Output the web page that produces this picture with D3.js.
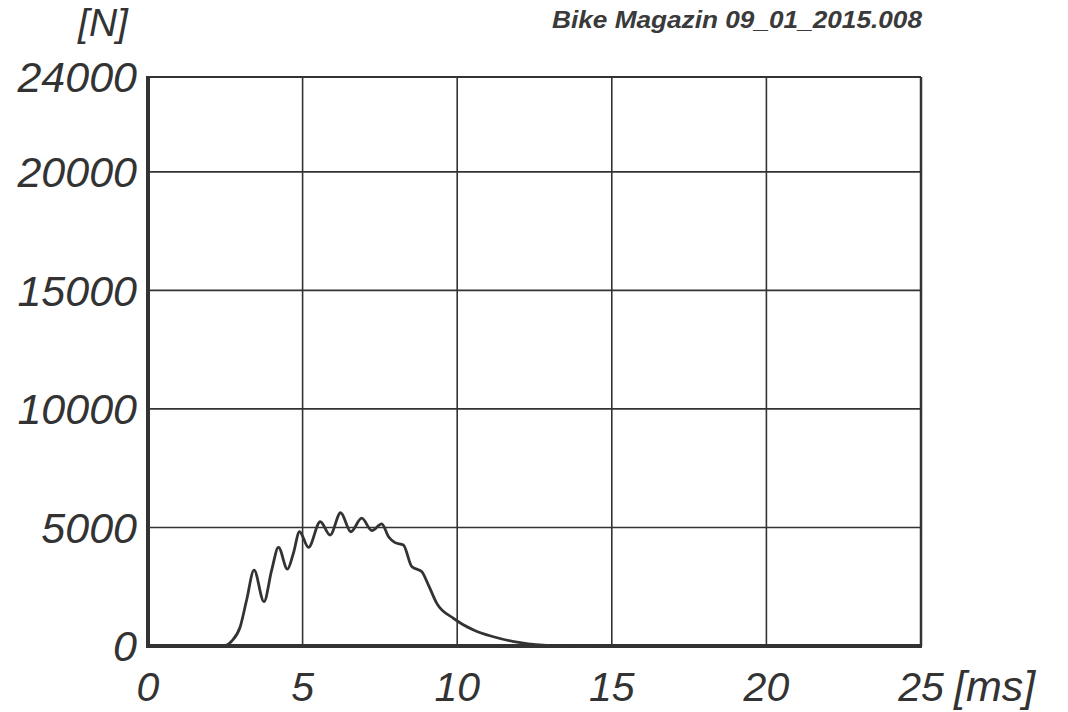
<!DOCTYPE html>
<html><head><meta charset="utf-8">
<script src="https://cdn.jsdelivr.net/npm/d3@7"></script>
<style>body{margin:0;background:#fff}svg{display:block}text{font-family:"Liberation Sans",Arial,sans-serif;font-style:italic;fill:#333}</style>
</head><body>
<script>
const xTicks = [0, 5, 10, 15, 20, 25];
const yTicks = [0, 5000, 10000, 15000, 20000, 24000];
const timeMs = [0, 1, 2, 2.5, 2.7, 2.98, 3.19, 3.43, 3.75, 4.0, 4.22, 4.51, 4.70, 4.90, 5.19, 5.57, 5.89, 6.23, 6.56, 6.91, 7.24, 7.56, 7.78, 7.99, 8.26, 8.53, 8.85, 9.07, 9.34, 9.88, 10.53, 11.17, 12.04, 13.0, 15, 20, 25];
const forceN = [0, 0, 0, 20, 200, 800, 1940, 3200, 1870, 3200, 4160, 3240, 3900, 4820, 4160, 5240, 4680, 5620, 4820, 5390, 4870, 5150, 4610, 4360, 4260, 3350, 3140, 2570, 1800, 1170, 675, 390, 140, 20, 0, 0, 0];
const title = "Bike Magazin 09_01_2015.008";
const yUnit = "[N]";
const xUnit = "[ms]";

const W = 1068, H = 712;
const svg = d3.select("body").append("svg").attr("width", W).attr("height", H);
const x = d3.scaleLinear().domain([0, 25]).range([148, 921]);
const y = d3.scaleLinear().domain([0, 24000]).range([646, 77]);
const ink = "#333";

// grid
svg.append("g").selectAll("line").data(xTicks.filter(d => d > 0)).join("line")
  .attr("x1", d => x(d)).attr("x2", d => x(d)).attr("y1", y(24000)).attr("y2", y(0))
  .attr("stroke", ink).attr("stroke-width", d => d === 25 ? 2.5 : 1.6);
svg.append("g").selectAll("line").data(yTicks.filter(d => d > 0)).join("line")
  .attr("x1", x(0)).attr("x2", x(25)).attr("y1", d => y(d)).attr("y2", d => y(d))
  .attr("stroke", ink).attr("stroke-width", d => d === 24000 ? 2.2 : 1.6);

// axes lines (thick)
svg.append("line").attr("x1", x(0)).attr("x2", x(0)).attr("y1", y(24000) - 1).attr("y2", y(0) + 2)
  .attr("stroke", ink).attr("stroke-width", 4);
svg.append("line").attr("x1", x(0) - 2).attr("x2", x(25) + 1).attr("y1", y(0)).attr("y2", y(0))
  .attr("stroke", ink).attr("stroke-width", 4);

// curve
const pts = timeMs.map((t, i) => [t, forceN[i]]);
svg.append("path").datum(pts)
  .attr("d", d3.line().x(d => x(d[0])).y(d => y(d[1])).curve(d3.curveMonotoneX))
  .attr("fill", "none").attr("stroke", ink).attr("stroke-width", 2.8).attr("stroke-linejoin", "round");

// y tick labels
svg.append("g").selectAll("text").data(yTicks).join("text")
  .attr("x", 137).attr("y", d => y(d)).attr("dy", "0.36em")
  .attr("text-anchor", "end").attr("font-size", 43).text(d => d);

// x tick labels
svg.append("g").selectAll("text").data(xTicks).join("text")
  .attr("x", d => x(d)).attr("y", 701)
  .attr("text-anchor", "middle").attr("font-size", 41).text(d => d);
svg.append("text").attr("x", 954).attr("y", 701).attr("font-size", 43).text(xUnit);

// y unit
svg.append("text").attr("x", 103).attr("y", 36).attr("text-anchor", "middle").attr("font-size", 39).text(yUnit);

// title
svg.append("text").attr("x", 922).attr("y", 28).attr("text-anchor", "end")
  .attr("font-size", 24).attr("font-weight", "bold").attr("textLength", 370).attr("lengthAdjust", "spacingAndGlyphs")
  .style("fill", "#3a3a3a").text(title);
</script>
</body></html>
